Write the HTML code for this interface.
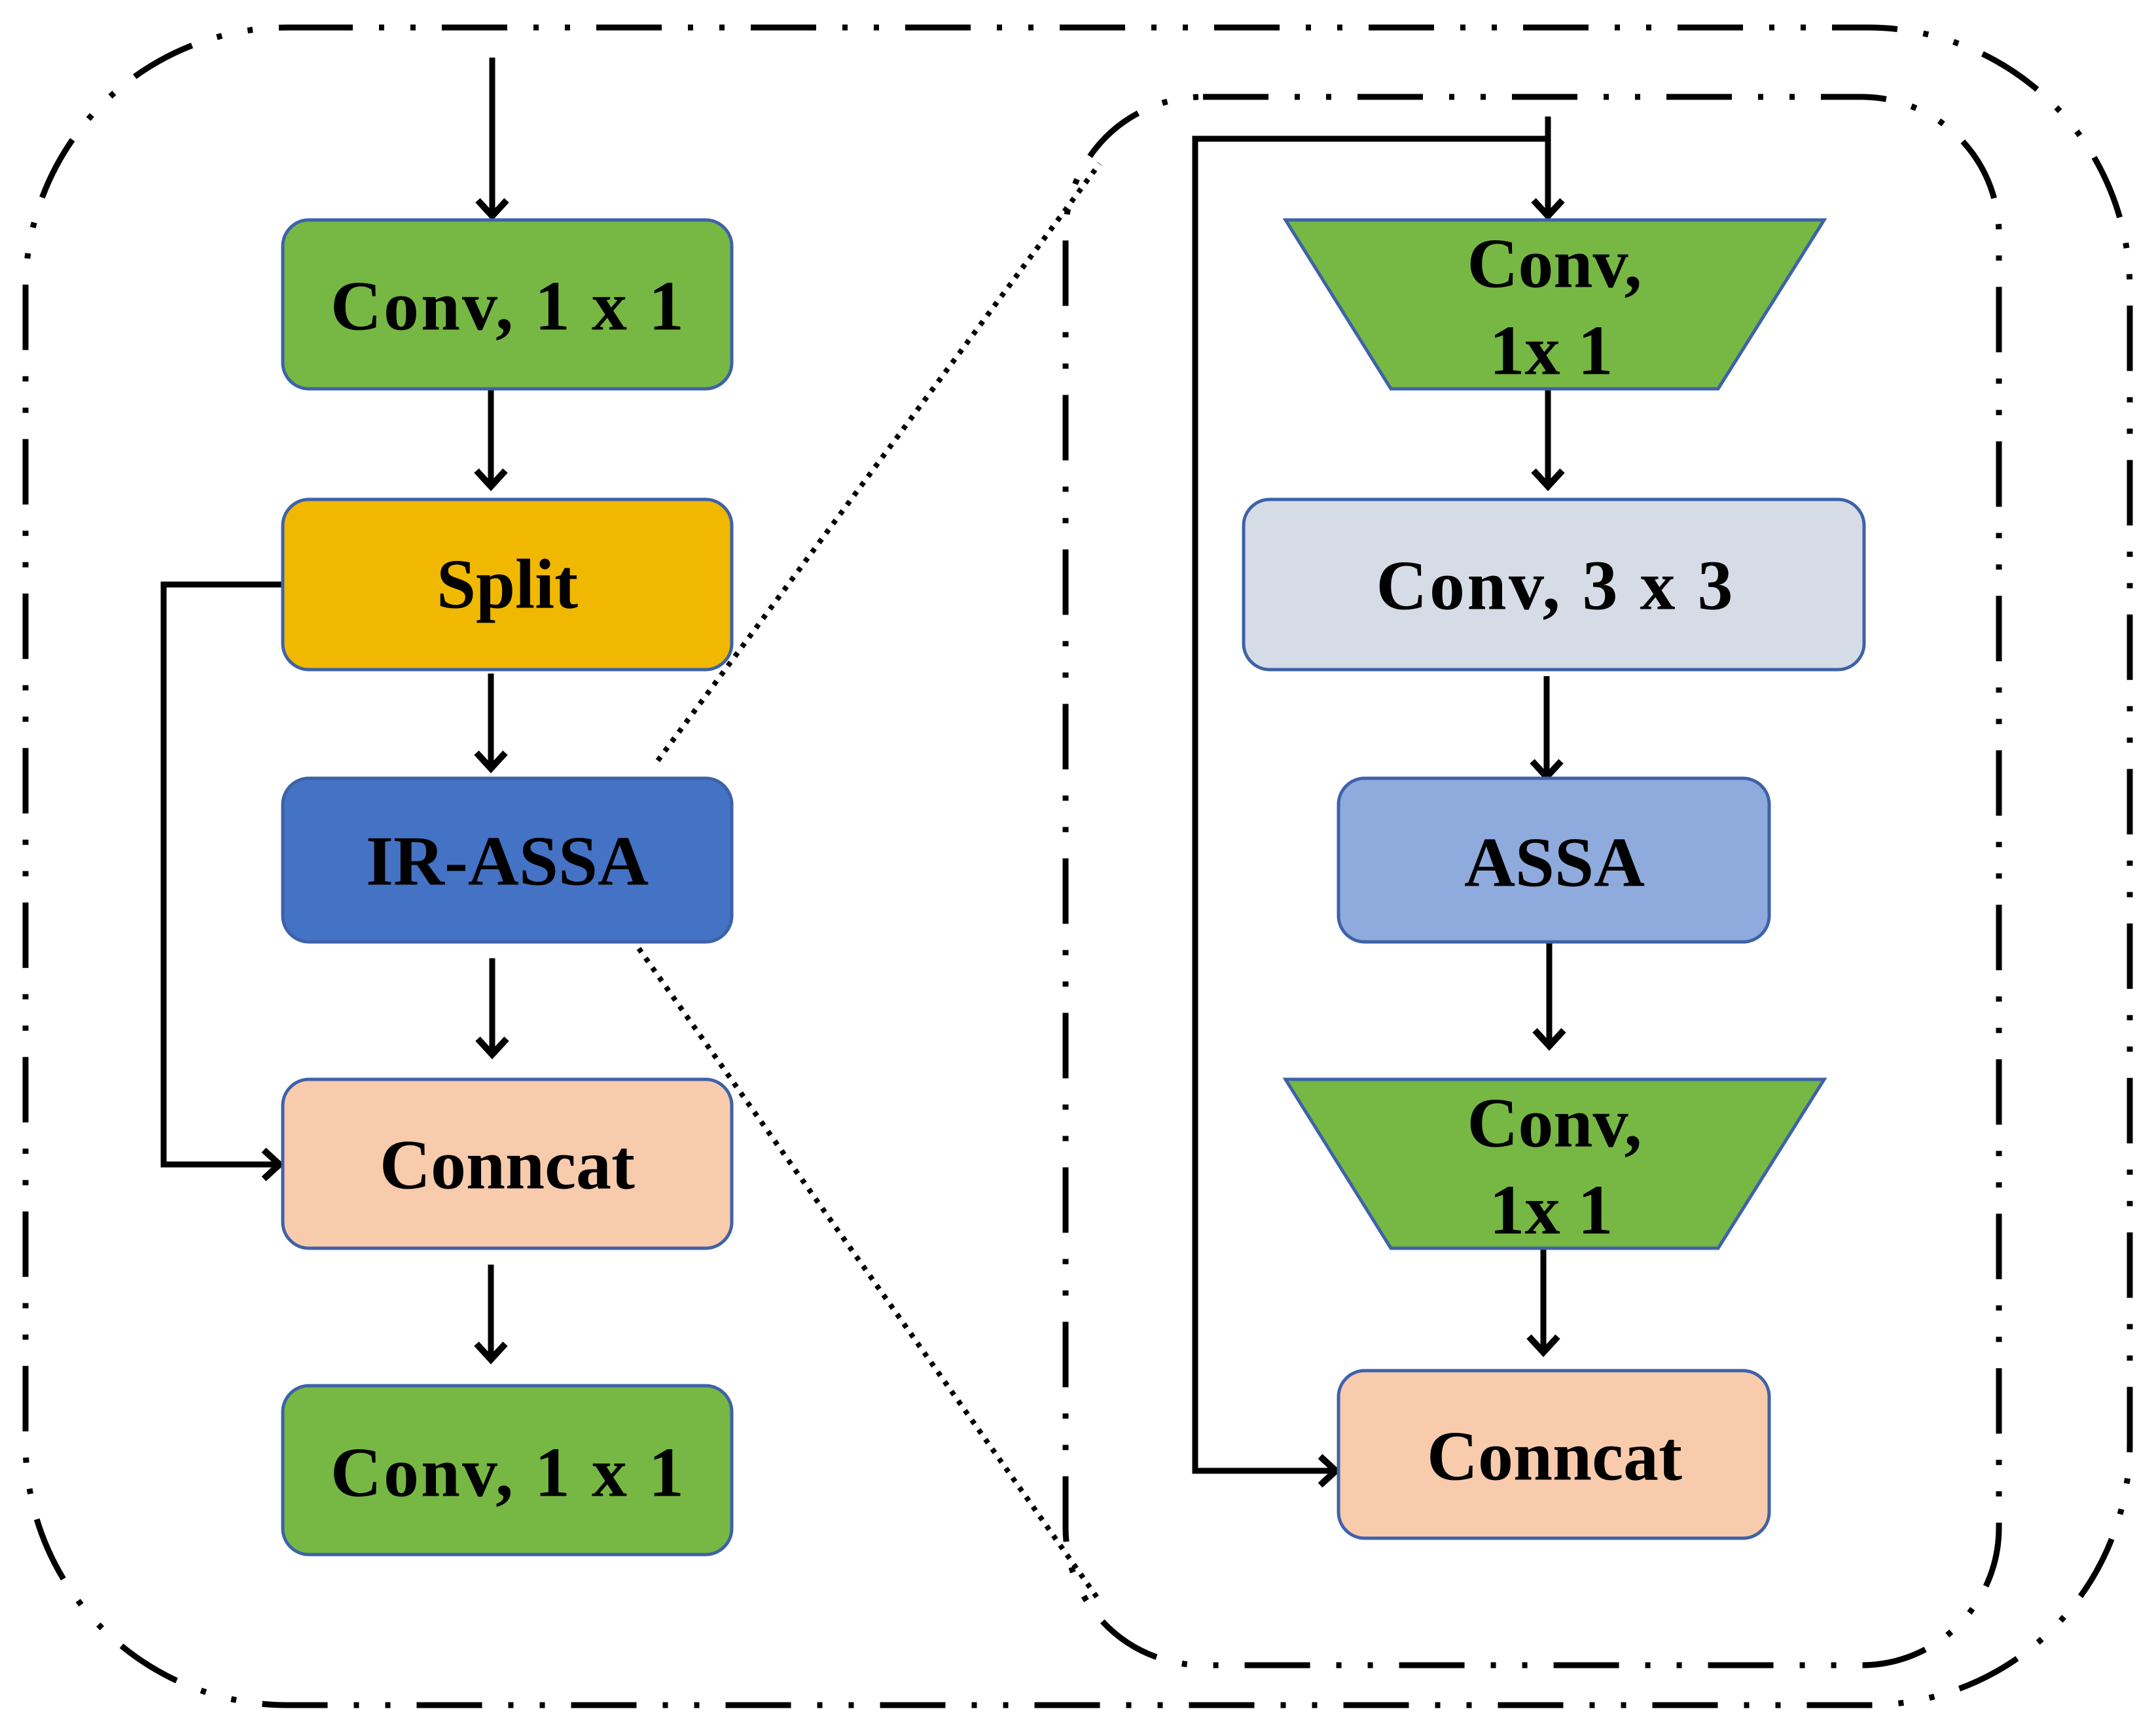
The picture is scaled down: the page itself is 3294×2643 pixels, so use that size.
<!DOCTYPE html>
<html><head><meta charset="utf-8"><style>
html,body{margin:0;padding:0;background:#fff;}
svg{display:block;}
text{font-family:"Liberation Serif",serif;font-weight:bold;fill:#000;text-anchor:middle;dominant-baseline:central;}
</style></head><body>
<svg width="3294" height="2643" viewBox="0 0 3294 2643" xmlns="http://www.w3.org/2000/svg">
<defs>
<marker id="ah" markerWidth="60" markerHeight="60" refX="30" refY="30" markerUnits="userSpaceOnUse" orient="auto">
<polyline points="6,8 30,30 6,52" fill="none" stroke="#000" stroke-width="10"/>
</marker>
</defs>
<rect x="39" y="42" width="3215" height="2563" rx="400" ry="400" fill="none" stroke="#000" stroke-width="9" stroke-dasharray="100 40 8 40 8 40"/>
<rect x="1628" y="148" width="1426" height="2396" rx="210" ry="210" fill="none" stroke="#000" stroke-width="9" stroke-dasharray="100 40 8 40 8 40"/>
<line x1="1005" y1="1162" x2="1680" y2="250" stroke="#000" stroke-width="8" stroke-dasharray="7 11"/>
<line x1="976" y1="1449" x2="1680" y2="2446" stroke="#000" stroke-width="8" stroke-dasharray="7 11"/>

<g stroke="#000" stroke-width="9" fill="none" marker-end="url(#ah)">
<line x1="752" y1="88" x2="752" y2="330"/>
<line x1="750" y1="594" x2="750" y2="743"/>
<line x1="750" y1="1029" x2="750" y2="1174"/>
<line x1="752" y1="1464" x2="752" y2="1611"/>
<line x1="750" y1="1932" x2="750" y2="2077"/>
<polyline points="431,893 250,893 250,1779 427,1779"/>
<line x1="2365" y1="178" x2="2365" y2="330"/>
<line x1="2365" y1="594" x2="2365" y2="743"/>
<line x1="2363" y1="1033" x2="2363" y2="1187"/>
<line x1="2367" y1="1439" x2="2367" y2="1598"/>
<line x1="2358" y1="1907" x2="2358" y2="2066"/>
<polyline points="2365,212 1826,212 1826,2247 2041,2247"/>
</g>

<g stroke="#3e62a8" stroke-width="5">
<rect x="432" y="336" width="686" height="258" rx="40" fill="#76b843"/>
<rect x="432" y="763" width="686" height="260" rx="40" fill="#f0b800"/>
<rect x="432" y="1189" width="686" height="250" rx="40" fill="#4472c4"/>
<rect x="432" y="1649" width="686" height="258" rx="40" fill="#f8cbad"/>
<rect x="432" y="2117" width="686" height="258" rx="40" fill="#76b843"/>
<polygon points="1964,336 2787,336 2625,594 2125,594" fill="#76b843"/>
<rect x="1900" y="763" width="948" height="260" rx="40" fill="#d6dce5"/>
<rect x="2045" y="1189" width="658" height="250" rx="40" fill="#8faadc"/>
<polygon points="1964,1649 2787,1649 2625,1907 2125,1907" fill="#76b843"/>
<rect x="2045" y="2094" width="658" height="256" rx="40" fill="#f8cbad"/>
</g>

<g font-size="108">
<text x="775" y="468" textLength="540" lengthAdjust="spacing">Conv,  1 x 1</text>
<text x="775" y="893">Split</text>
<text x="775" y="1316">IR-ASSA</text>
<text x="775" y="1780">Conncat</text>
<text x="775" y="2250" textLength="540" lengthAdjust="spacing">Conv,  1 x 1</text>
<text x="2375" y="403">Conv,</text>
<text x="2370" y="536">1x 1</text>
<text x="2375" y="895" textLength="545" lengthAdjust="spacing">Conv,  3 x 3</text>
<text x="2375" y="1318">ASSA</text>
<text x="2375" y="1716">Conv,</text>
<text x="2370" y="1849">1x 1</text>
<text x="2375" y="2225">Conncat</text>
</g>
</svg>
</body></html>
